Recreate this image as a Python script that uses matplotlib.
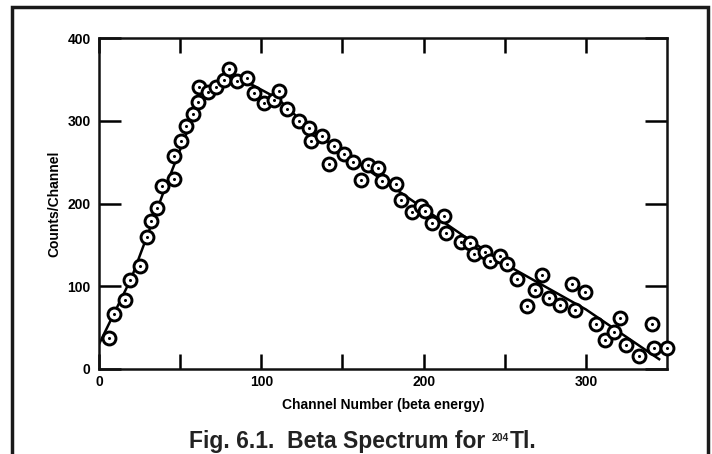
import matplotlib
matplotlib.use("Agg")
import matplotlib.pyplot as plt
from matplotlib.patches import Rectangle

# Data
channel = [6, 9, 16, 19, 25, 29.6, 31.8, 36, 38.8, 46, 46, 50.3, 53.4, 58.1, 61.2, 61.5,
           67.3, 72, 77, 80.4, 85, 91.3, 95.8, 101.4, 107.8, 111.2, 115.6, 123.5, 129.3,
           130.7, 137.4, 141.9, 144.7, 150.8, 156.7, 161.5, 165.9, 171.8, 174.3, 183, 186,
           192.7, 198.3, 200.6, 205, 212.3, 214, 222.9, 228.5, 231.3, 238, 241, 247, 251.4,
           257.8, 263.7, 268.7, 273.2, 277.1, 284, 291.6, 293.6, 299.7, 306.1, 311.5, 317.6,
           321, 324.9, 332.7, 340.5, 342.2, 350]
counts = [38, 66, 83, 107, 124, 159, 179, 195, 221, 230, 257, 275, 294, 308, 323, 341,
          335, 341, 349, 363, 348, 352, 333, 321, 325, 336, 314, 300, 291,
          276, 282, 248, 270, 260, 250, 229, 246, 243, 227, 224, 204,
          190, 197, 191, 176, 185, 164, 153, 152, 139, 141, 131, 136, 127,
          109, 76, 96, 113, 86, 77, 103, 71, 93, 54, 35, 45,
          62, 29, 16, 54, 25, 25]

# Hand-drawn fit curve
fit_x = [0, 20, 40, 50, 60, 70, 80, 90, 110, 130, 150, 200, 250, 300, 345.8]
fit_y = [30, 110, 215, 265, 315, 338, 350, 348, 327, 290, 262, 194, 127, 72, 11]

xticks_major = [0, 100, 200, 300]
xticks_minor = [50, 150, 250]
yticks = [0, 100, 200, 300, 400]

W, H = 712, 454
fig = plt.figure(figsize=(W / 100, H / 100), dpi=100)
fig.patch.set_facecolor("white")

# outer frame
fig.patches.append(Rectangle((12 / W, -0.05), (708 - 12) / W, 1.05 - 7 / H,
                             transform=fig.transFigure, fill=False,
                             edgecolor="#1a1a1a", linewidth=2.5))

ax = fig.add_axes([99 / W, 1 - 369 / H, (667 - 99) / W, (369 - 38) / H])
ax.set_xlim(0, 350)
ax.set_ylim(0, 400)

ax.plot(fit_x, fit_y, color="black", lw=1.8, zorder=2, solid_capstyle="butt")
ax.plot(channel, counts, linestyle="none", marker="o", ms=9.3, mfc="white",
        mec="black", mew=2.1, zorder=3, clip_on=False)
ax.plot(channel, counts, linestyle="none", marker="o", ms=2.2, mfc="black",
        mec="black", mew=0, zorder=4, clip_on=False)

for s in ax.spines.values():
    s.set_linewidth(1.8)
    s.set_color("#111111")

fam = ["Liberation Sans", "DejaVu Sans"]
ax.set_xticks(xticks_major)
ax.set_xticks(xticks_minor, minor=True)
ax.set_yticks(yticks)
ax.set_xticklabels([str(v) for v in xticks_major], fontsize=10, family=fam, weight="bold")
ax.set_yticklabels([str(v) for v in yticks], fontsize=10, family=fam, weight="bold")
ax.tick_params(axis="x", which="both", direction="in", length=11, width=1.8,
               top=True, bottom=True, pad=4)
ax.tick_params(axis="y", direction="in", length=16, width=1.8,
               left=True, right=True, pad=6)

ax.set_xlabel("Channel Number (beta energy)", fontsize=10, labelpad=7,
              family=fam, weight="bold")
ax.set_ylabel("Counts/Channel", fontsize=10, labelpad=4.5,
              family=fam, weight="bold")

# Title with a small superscript, assembled from pieces
tcolor = "#222222"
tsize = 16.5
y_base = 1 - 448 / H
fig.canvas.draw()
r = fig.canvas.get_renderer()
t1 = fig.text(0, y_base, "Fig. 6.1.  Beta Spectrum for ", fontsize=tsize, color=tcolor,
              family=fam, weight="bold", va="baseline")
t2 = fig.text(0, y_base, "204", fontsize=7.5, color=tcolor, family=fam,
              weight="bold", va="baseline")
t3 = fig.text(0, y_base, "Tl.", fontsize=tsize, color=tcolor, family=fam,
              weight="bold", va="baseline")
w1 = t1.get_window_extent(r).width
w2 = t2.get_window_extent(r).width
w3 = t3.get_window_extent(r).width
total = w1 + w2 + w3
x0 = 362 - total / 2
t1.set_x(x0 / W)
t2.set_x((x0 + w1) / W)
t2.set_y(y_base + 7 / H)
t3.set_x((x0 + w1 + w2 + 1) / W)

fig.savefig("out.png", dpi=100, facecolor="white")
